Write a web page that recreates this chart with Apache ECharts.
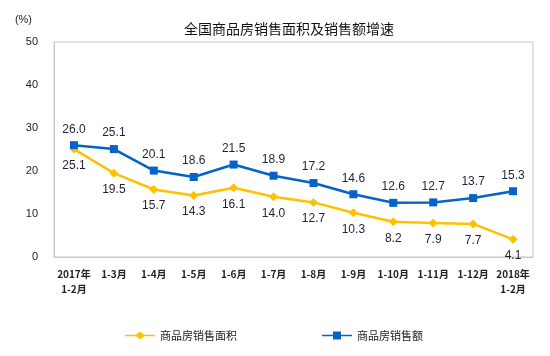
<!DOCTYPE html>
<html><head><meta charset="utf-8">
<script src="https://cdn.jsdelivr.net/npm/echarts@6/dist/echarts.min.js"></script>
<style>html,body{margin:0;padding:0;background:#fff}#c{width:550px;height:356px}</style>
</head><body><div id="c"></div>
<script>
const categories = ['2017年\n1-2月','1-3月','1-4月','1-5月','1-6月','1-7月','1-8月','1-9月','1-10月','1-11月','1-12月','2018年\n1-2月'];
const areaGrowth = [25.1,19.5,15.7,14.3,16.1,14.0,12.7,10.3,8.2,7.9,7.7,4.1];
const salesGrowth = [26.0,25.1,20.1,18.6,21.5,18.9,17.2,14.6,12.6,12.7,13.7,15.3];
const yTicks = [0,10,20,30,40,50];
const chart = echarts.init(document.getElementById('c'));
const labelStyle = {show:true, fontSize:12, color:'#1f1f3a', fontFamily:'Liberation Sans, Arial', formatter: p => p.value.toFixed(1)};
const iconDiamond = 'path://M0,3.2 L11,3.2 L15,0 L19,3.2 L30,3.2 L30,4.8 L19,4.8 L15,8 L11,4.8 L0,4.8 Z';
const iconRect = 'path://M0,3.2 L11,3.2 L11,0 L19,0 L19,3.2 L30,3.2 L30,4.8 L19,4.8 L19,8 L11,8 L11,4.8 L0,4.8 Z';
chart.setOption({
  animation:false,
  title:{text:'全国商品房销售面积及销售额增速', left:284, top:17, textAlign:'center',
    textStyle:{fontSize:14, fontWeight:'normal', color:'#111', fontFamily:'Noto Sans CJK SC'}},
  legend:{left:120, bottom:10, itemGap:85, itemWidth:30, itemHeight:8,
    textStyle:{fontSize:11, color:'#222', fontFamily:'Noto Sans CJK SC'},
    data:[{name:'商品房销售面积', icon:iconDiamond},{name:'商品房销售额', icon:iconRect}]},
  grid:{left:54, right:17, top:42, bottom:99, show:true, borderColor:'#c8c8c8', borderWidth:1},
  xAxis:{type:'category', data:categories, boundaryGap:true,
    axisLine:{lineStyle:{color:'#c8c8c8'}},
    axisTick:{inside:true, length:4, lineStyle:{color:'#c8c8c8'}},
    axisLabel:{interval:0, fontSize:10, color:'#222', margin:10, lineHeight:15, fontFamily:'Noto Sans CJK SC', fontWeight:'bold'}},
  yAxis:{type:'value', min:yTicks[0], max:yTicks[yTicks.length-1], interval:10,
    name:'(%)', nameLocation:'end', nameGap:17, nameTextStyle:{fontSize:11, color:'#222', align:'right', padding:[0,22,0,0]},
    splitLine:{show:false}, axisTick:{show:false},
    axisLine:{show:true, lineStyle:{color:'#c8c8c8'}},
    axisLabel:{fontSize:11, color:'#222', margin:16, fontFamily:'Liberation Sans'}},
  series:[
    {name:'商品房销售面积', type:'line', data:areaGrowth, symbol:'diamond', symbolSize:9,
      lineStyle:{color:'#ffc000', width:2.5}, itemStyle:{color:'#ffc000'},
      label:Object.assign({position:'bottom', distance:6}, labelStyle)},
    {name:'商品房销售额', type:'line', data:salesGrowth, symbol:'rect', symbolSize:8,
      lineStyle:{color:'#0563c8', width:2.5}, itemStyle:{color:'#0563c8'},
      label:Object.assign({position:'top', distance:6}, labelStyle)}
  ]
});
</script></body></html>
